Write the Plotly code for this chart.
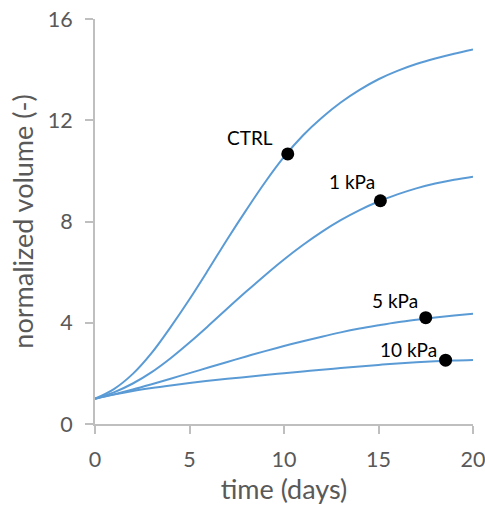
import plotly.graph_objects as go

days = list(range(0, 21))
ctrl = [1.0, 1.38, 1.98, 2.81, 3.83, 4.93, 6.10, 7.30, 8.45, 9.55, 10.55, 11.40, 12.10,
        12.70, 13.20, 13.62, 13.95, 14.22, 14.44, 14.63, 14.80]
kpa1 = [1.0, 1.25, 1.6, 2.05, 2.6, 3.22, 3.88, 4.56, 5.23, 5.88, 6.50, 7.07, 7.59,
        8.05, 8.45, 8.79, 9.07, 9.31, 9.50, 9.65, 9.77]
kpa5 = [1.0, 1.17, 1.36, 1.57, 1.79, 2.01, 2.23, 2.45, 2.67, 2.88, 3.08, 3.27, 3.45,
        3.62, 3.77, 3.90, 4.02, 4.12, 4.21, 4.29, 4.36]
kpa10 = [1.0, 1.16, 1.30, 1.42, 1.525, 1.62, 1.705, 1.785, 1.86, 1.935, 2.005, 2.075, 2.145,
         2.21, 2.275, 2.335, 2.39, 2.435, 2.475, 2.505, 2.525]

marker_days = [10.2, 15.1, 17.5, 18.55]
marker_values = [10.67, 8.82, 4.2, 2.52]
marker_labels = ["CTRL", "1 kPa", "5 kPa", "10 kPa"]
label_shifts = [(-38, 16), (-28, 19), (-31, 17), (-37, 11)]

x_ticks = [0, 5, 10, 15, 20]
y_ticks = [0, 4, 8, 12, 16]

LINE = "#5B9BD5"
AXIS = "#BFBFBF"
TXT = "#595959"
FONT = "Lato"

fig = go.Figure()
for name, ys in [("CTRL", ctrl), ("1 kPa", kpa1), ("5 kPa", kpa5), ("10 kPa", kpa10)]:
    fig.add_trace(go.Scatter(x=days, y=ys, mode="lines", name=name,
                             line=dict(color=LINE, width=2, shape="spline", smoothing=1.0),
                             showlegend=False))

fig.add_trace(go.Scatter(x=marker_days, y=marker_values, mode="markers",
                         marker=dict(color="black", size=13), showlegend=False))

for xd, yd, lab, (dx, dy) in zip(marker_days, marker_values, marker_labels, label_shifts):
    fig.add_annotation(x=xd, y=yd, text=lab, showarrow=False, xshift=dx, yshift=dy,
                       font=dict(family=FONT, size=19, color="black"))

fig.update_layout(
    width=485, height=508,
    margin=dict(l=95, r=12, t=19, b=84),
    paper_bgcolor="white", plot_bgcolor="white",
    font=dict(family=FONT, color=TXT),
)
fig.update_xaxes(range=[0, 20], tickvals=x_ticks, showgrid=False, zeroline=False,
                 showline=True, linecolor=AXIS, linewidth=2, automargin=False,
                 ticks="outside", ticklen=8, tickcolor=AXIS, tickwidth=2,
                 tickfont=dict(family=FONT, size=21.5, color=TXT),
                 ticklabelstandoff=7, ticklabeloverflow="allow",
                 title=dict(text="time (days)", font=dict(family=FONT, size=27, color=TXT),
                            standoff=6))
fig.update_yaxes(range=[0, 16], tickvals=y_ticks, showgrid=False, zeroline=False,
                 showline=True, linecolor=AXIS, linewidth=2, automargin=False,
                 ticks="outside", ticklen=8, tickcolor=AXIS, tickwidth=2,
                 tickfont=dict(family=FONT, size=21.5, color=TXT),
                 ticklabelstandoff=8, ticklabeloverflow="allow",
                 title=dict(text="normalized volume (-)", font=dict(family=FONT, size=27, color=TXT),
                            standoff=6))

# remove the browser's default 8px body margin so the figure fills the window
fig.write_html("out.html",
               config={"displayModeBar": False},
               post_script="document.body.style.margin='0';document.body.style.overflow='hidden';")
